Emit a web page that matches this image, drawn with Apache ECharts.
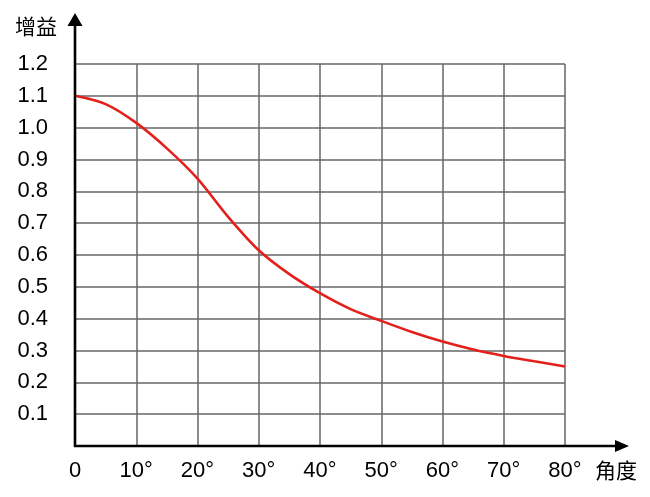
<!DOCTYPE html>
<html>
<head>
<meta charset="utf-8">
<script src="https://cdn.jsdelivr.net/npm/echarts@6/dist/echarts.min.js"></script>
<style>
html,body{margin:0;padding:0;background:#fff;}
#c{width:650px;height:497px;}
</style>
</head>
<body>
<div id="c"></div>
<script>
const angles = [0, 5, 10, 15, 20, 25, 30, 35, 40, 45, 50, 55, 60, 65, 70, 75, 80];
const gains = [1.10, 1.074, 1.015, 0.935, 0.84, 0.72, 0.615, 0.54, 0.48, 0.43, 0.393, 0.358, 0.328, 0.303, 0.283, 0.266, 0.25];
const xTicks = [0, 10, 20, 30, 40, 50, 60, 70, 80];
const yName = '增益';
const xName = '角度';

const FONT = 'Liberation Sans, Arial, sans-serif';
const CJK = 'Noto Sans CJK SC, sans-serif';

const chart = echarts.init(document.getElementById('c'));
chart.setOption({
  animation: false,
  grid: { left: 75, right: 85, top: 64, bottom: 51, containLabel: false },
  xAxis: {
    type: 'value', min: 0, max: 80, interval: 10,
    axisLine: { show: false },
    axisTick: { show: false },
    axisLabel: {
      margin: 14, color: '#000', fontSize: 22, fontFamily: FONT,
      formatter: v => xTicks.indexOf(v) >= 0 ? (v === 0 ? '0' : v + '°') : ''
    },
    splitLine: { show: true, lineStyle: { color: '#666', width: 1.5 } }
  },
  yAxis: {
    type: 'value', min: 0, max: 1.2, interval: 0.1,
    axisLine: { show: false },
    axisTick: { show: false },
    axisLabel: {
      margin: 27, color: '#000', fontSize: 22, fontFamily: FONT,
      formatter: v => v === 0 ? '' : v.toFixed(1)
    },
    splitLine: { show: true, lineStyle: { color: '#666', width: 1.5 } }
  },
  series: [{
    type: 'line',
    data: angles.map((a, i) => [a, gains[i]]),
    smooth: 0.3,
    showSymbol: false,
    lineStyle: { color: '#e3201b', width: 2.6 },
    z: 5
  }]
});

const o = chart.convertToPixel({ gridIndex: 0 }, [0, 0]);
const yTop = chart.convertToPixel({ gridIndex: 0 }, [0, 1.2])[1];
const xRight = chart.convertToPixel({ gridIndex: 0 }, [80, 0])[0];
const ox = o[0], oy = o[1];
const yTip = yTop - 51, xTip = xRight + 64;
chart.setOption({
  graphic: [
    { type: 'line', shape: { x1: ox, y1: oy + 1, x2: ox, y2: yTip + 10 }, style: { stroke: '#000', lineWidth: 2.6 }, z: 10 },
    { type: 'polygon', shape: { points: [[ox, yTip], [ox - 7.5, yTip + 13], [ox + 7.5, yTip + 13]] }, style: { fill: '#000' }, z: 10 },
    { type: 'line', shape: { x1: ox - 1, y1: oy, x2: xTip - 10, y2: oy }, style: { stroke: '#000', lineWidth: 2.6 }, z: 10 },
    { type: 'polygon', shape: { points: [[xTip, oy], [xTip - 14, oy - 6], [xTip - 14, oy + 6]] }, style: { fill: '#000' }, z: 10 },
    { type: 'text', x: ox - 18, y: yTip + 13, style: { text: yName, font: '21px ' + CJK, fill: '#000', textAlign: 'right', textVerticalAlign: 'middle' }, z: 10 },
    { type: 'text', x: xTip + 8, y: oy + 24, style: { text: xName, font: '21px ' + CJK, fill: '#000', textAlign: 'right', textVerticalAlign: 'middle' }, z: 10 }
  ]
});
</script>
</body>
</html>
